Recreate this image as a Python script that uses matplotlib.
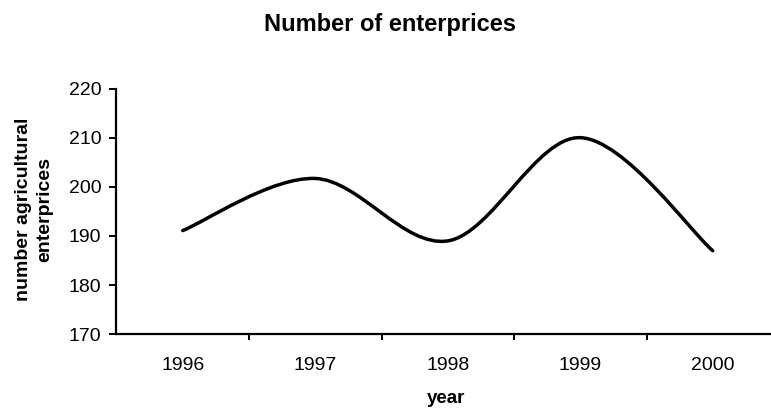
import matplotlib
matplotlib.use("Agg")
import matplotlib.pyplot as plt
from matplotlib.path import Path
from matplotlib.patches import PathPatch

plt.rcParams['font.family'] = ['Liberation Sans', 'DejaVu Sans']

years = ["1996", "1997", "1998", "1999", "2000"]
enterprises = [191.1, 201.7, 189.0, 210.0, 187.0]
y_ticks = [170, 180, 190, 200, 210, 220]

W, H = 771, 409
fig = plt.figure(figsize=(W / 100, H / 100), dpi=100)
ax_l, ax_r, ax_b, ax_t = 116.5, 779.0, 334.3, 88.5
ax = fig.add_axes([ax_l / W, 1 - ax_b / H, (ax_r - ax_l) / W, (ax_b - ax_t) / H])

# Excel-style smoothed line through the data points (cubic Bezier segments)
xs = list(range(len(years)))
ys = enterprises
n = len(xs)
verts = [(xs[0], ys[0])]
codes = [Path.MOVETO]
for i in range(n - 1):
    xp, yp = (xs[i - 1], ys[i - 1]) if i > 0 else (xs[i], ys[i])
    xn2, yn2 = (xs[i + 2], ys[i + 2]) if i + 2 < n else (xs[i + 1], ys[i + 1])
    c1 = (xs[i] + (xs[i + 1] - xp) / 6, ys[i] + (ys[i + 1] - yp) / 6)
    c2 = (xs[i + 1] - (xn2 - xs[i]) / 6, ys[i + 1] - (yn2 - ys[i]) / 6)
    verts += [c1, c2, (xs[i + 1], ys[i + 1])]
    codes += [Path.CURVE4] * 3
ax.add_patch(PathPatch(Path(verts, codes), facecolor='none', edgecolor='black',
                       linewidth=2.5, capstyle='round', joinstyle='round'))

ax.set_xlim(-0.5, n - 0.5)
ax.set_ylim(y_ticks[0], y_ticks[-1])
ax.set_yticks(y_ticks)
ax.set_xticks([i + 0.5 for i in range(n)])
ax.set_xticklabels([])
ax.set_xticks(xs, minor=True)
ax.set_xticklabels(years, minor=True)
ax.tick_params(axis='x', which='minor', length=0, pad=16.5, labelsize=14)
ax.tick_params(axis='x', which='major', direction='out', length=4.5, width=1.4)
ax.tick_params(axis='y', direction='out', length=4.7, width=1.4, labelsize=14, pad=6.3)

for s in ['top', 'right']:
    ax.spines[s].set_visible(False)
for s in ['left', 'bottom']:
    ax.spines[s].set_linewidth(1.6)

ax.set_xlabel("year", fontsize=13.5, fontweight='bold', va='baseline')
ax.xaxis.set_label_coords((446 - ax_l) / (ax_r - ax_l), (ax_b - 402.7) / (ax_b - ax_t))
ax.set_ylabel("number agricultural\nenterprices", fontsize=14, fontweight='bold',
              va='center', ha='center', linespacing=1.35)
ax.yaxis.set_label_coords((34 - ax_l) / (ax_r - ax_l), (ax_b - 209) / (ax_b - ax_t))
fig.text(390 / W, 1 - 30.5 / H, "Number of enterprices", ha='center', va='baseline',
         fontsize=17, fontweight='bold')

fig.savefig("out.png", dpi=100)
